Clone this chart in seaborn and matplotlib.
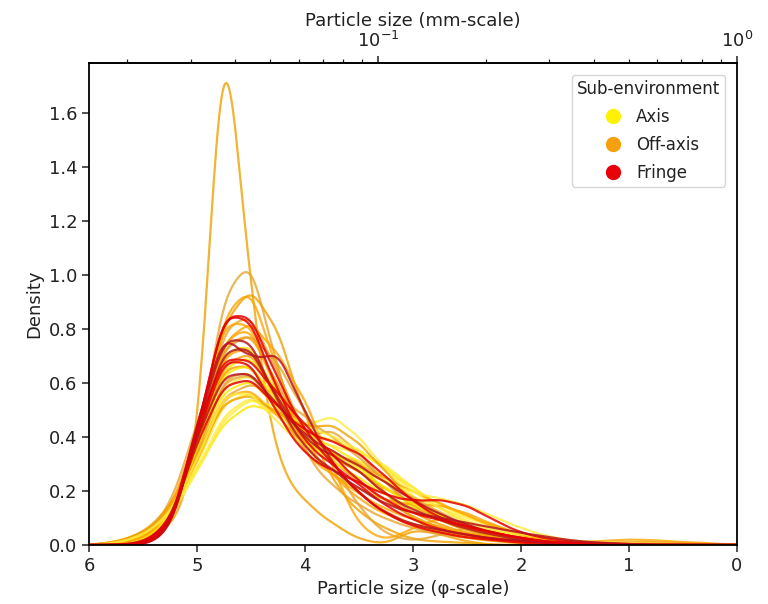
import numpy as np
import matplotlib
matplotlib.use("Agg")
import matplotlib.pyplot as plt
import seaborn as sns
from matplotlib.lines import Line2D
from matplotlib.ticker import LogLocator, LogFormatterSciNotation, NullFormatter, FixedLocator

# ---------------- data: grain-size distributions (% per 0.25-phi class) ----------------
phi_classes = [5.75, 5.5, 5.25, 5.0, 4.75, 4.5, 4.25, 4.0, 3.75, 3.5, 3.25, 3.0,
               2.75, 2.5, 2.25, 2.0, 1.75, 1.5, 1.25, 1.0, 0.75, 0.5, 0.25]

axis_samples = [
    [0.3, 1.2, 3.5, 8, 13, 15, 14, 12, 11, 10, 8, 6, 4.2, 3, 2, 1.2, 0.7, 0.4, 0.2, 0.1, 0.1, 0, 0],
    [0.2, 1, 3, 8, 14, 16, 13.5, 12.5, 14, 11.5, 8, 5, 3.2, 2, 1.3, 0.8, 0.4, 0.2, 0.1, 0.1, 0, 0, 0],
    [0.2, 1, 3.5, 9.5, 16, 17, 14, 11.5, 10, 8.5, 7, 4.5, 3, 2, 1.2, 0.7, 0.4, 0.2, 0.1, 0, 0, 0, 0],
    [0.1, 0.8, 3, 9, 17, 18, 14.5, 10.5, 9, 8, 6.5, 5, 3.8, 2.8, 1.9, 1.2, 0.7, 0.4, 0.2, 0.1, 0.1, 0, 0],
    [0.1, 0.6, 2.8, 9.5, 18.5, 19.5, 15, 11, 9, 7.5, 5.8, 4, 2.8, 1.8, 1, 0.6, 0.3, 0.2, 0.1, 0, 0, 0, 0],
    [0.2, 1, 3.2, 8.5, 15.5, 16.5, 14, 11.5, 10.5, 10, 8.5, 6.2, 3.8, 2.3, 1.5, 1, 0.6, 0.3, 0.2, 0.1, 0.1, 0, 0],
    [0, 0.5, 2.5, 10, 20, 20.5, 15, 10.5, 8.5, 6.8, 5, 3.8, 2.5, 1.6, 1, 0.6, 0.3, 0.2, 0.1, 0, 0, 0, 0],
    [0.2, 1, 3, 7.5, 13.5, 15.5, 14.5, 12.5, 11.5, 10, 8, 5.6, 3.8, 2.5, 1.6, 1.1, 0.7, 0.4, 0.3, 0.2, 0.1, 0.1, 0],
    [0.1, 0.8, 3, 9.5, 18, 18.5, 14.5, 11, 9.5, 8, 5.6, 4.1, 2.9, 1.9, 1.1, 0.6, 0.3, 0.2, 0.1, 0.1, 0, 0, 0],
    [0.2, 1, 3.2, 9, 16.5, 16.5, 13, 10.5, 9.5, 8.5, 6.8, 5.6, 5, 4.3, 3, 1.8, 0.9, 0.4, 0.2, 0.1, 0, 0, 0],
]

offaxis_samples = [
    [0, 0.3, 1.5, 6, 54, 22, 7, 4, 2, 0.5, 0, 1.5, 1, 0.3, 0, 0, 0, 0, 0, 0, 0, 0, 0],
    [0, 0.4, 2, 8.5, 26, 29.5, 17.5, 9, 6, 4, 2.6, 1.7, 1.1, 0.7, 0.4, 0.2, 0, 0, 0, 0, 0, 0, 0],
    [0, 0.5, 2.2, 8.5, 23.5, 26, 17, 10, 7, 4.5, 3, 2, 1.3, 0.8, 0.5, 0.3, 0.2, 0.1, 0, 0, 0, 0, 0],
    [0, 0.5, 2.5, 9, 21.5, 24.5, 20.5, 12, 6, 3, 1.5, 0.5, 0.3, 0.2, 0, 0, 0, 0, 0, 0, 0, 0, 0],
    [0.1, 0.6, 2.8, 9, 22, 23, 17, 11, 8, 5, 3.2, 2, 1.3, 0.8, 0.5, 0.3, 0.1, 0.1, 0, 0, 0, 0, 0],
    [0.1, 0.6, 2.8, 9, 21, 22, 15, 9.5, 9, 8.5, 5, 2.5, 1.3, 0.7, 0.4, 0.2, 0.1, 0, 0, 0, 0, 0, 0],
    [0.1, 0.7, 3, 9.5, 20.5, 21.5, 16, 11, 8.5, 6.3, 4.4, 2.8, 1.7, 1, 0.6, 0.4, 0.2, 0.1, 0.1, 0, 0, 0, 0],
    [0, 0.5, 3, 10, 16.5, 17.5, 15, 11, 7, 3, 0.8, 0.3, 0.8, 1.5, 1.2, 0.6, 0.2, 0, 0, 0, 0, 0, 0],
    [0, 0.4, 2.5, 9.5, 18.5, 20, 17, 13, 7, 1.5, 0.3, 1.5, 2.5, 1.5, 0.6, 0.2, 0, 0, 0, 0, 0, 0, 0],
    [0.2, 1, 3.5, 10, 18.5, 19.5, 15, 11, 9, 7.5, 5, 3.2, 2, 1.2, 0.7, 0.4, 0.2, 0.1, 0.1, 0, 0, 0, 0],
    [0.2, 1, 3.2, 9, 17.5, 18, 13.5, 11, 12, 9.5, 6.3, 3.8, 2.5, 1.5, 0.9, 0.5, 0.2, 0.1, 0, 0, 0, 0, 0],
    [0.3, 1.2, 3.5, 8.5, 16, 16.5, 13.5, 10.5, 9.5, 8.5, 7, 5.6, 4.4, 3.1, 1.9, 1, 0.5, 0.3, 0.4, 0.6, 0.5, 0.3, 0.2],
    [0.1, 0.8, 3, 10, 18.5, 18.5, 14, 10.5, 9, 7.5, 5.6, 4.4, 3.1, 1.9, 1.1, 0.6, 0.3, 0.2, 0.2, 0.3, 0.3, 0.2, 0.1],
    [0.2, 1, 3.5, 9, 15.5, 16.5, 15.5, 13, 11, 9, 6.3, 4, 2.5, 1.5, 0.9, 0.5, 0.2, 0.1, 0, 0, 0, 0, 0],
    [0.1, 0.6, 2.8, 10, 19.5, 20, 14, 9, 7, 5.6, 4.4, 4, 4, 3.2, 2, 1, 0.5, 0.2, 0.1, 0, 0, 0, 0],
    [0.3, 1.2, 3.8, 9, 15, 15.5, 13.5, 12, 12.5, 10.5, 7.5, 4.4, 2.5, 1.5, 0.9, 0.5, 0.2, 0.1, 0, 0, 0, 0, 0],
    [0.2, 0.9, 3.2, 9.5, 17, 17.5, 14, 11, 9.5, 8, 6.3, 4.8, 3.3, 2, 1.1, 0.6, 0.3, 0.2, 0.1, 0, 0, 0, 0],
    [0.1, 0.6, 3, 11, 22.5, 22, 15, 9.5, 7, 5, 3.5, 2.5, 1.8, 1.1, 0.8, 0.5, 0.2, 0.1, 0.1, 0.1, 0.1, 0, 0],
]

fringe_samples = [
    [0, 0, 1, 11, 23.5, 22.5, 15, 10, 8, 6, 3.8, 2.5, 1.5, 1, 0.6, 0.4, 0.2, 0, 0, 0, 0, 0, 0],
    [0, 0, 1, 12, 21.5, 18, 19.5, 13, 8, 5, 3.1, 2, 1.5, 1, 0.6, 0.4, 0.2, 0, 0, 0, 0, 0, 0],
    [0, 0, 1.2, 11, 23, 22.5, 16, 11, 8, 5, 3, 1.8, 1.2, 0.7, 0.5, 0.2, 0.1, 0, 0, 0, 0, 0, 0],
    [0, 0.1, 1.5, 11, 20, 20, 14.5, 10.5, 9, 7.5, 5, 3.5, 2.5, 1.6, 1, 0.5, 0.2, 0.1, 0, 0, 0, 0, 0],
    [0, 0.1, 1.5, 11, 19, 18.5, 13, 9, 7.5, 6.3, 5, 4.4, 4.6, 4, 2.5, 1.2, 0.6, 0.3, 0.2, 0.1, 0, 0, 0],
    [0, 0.2, 2, 11, 17.5, 17.5, 14, 11, 9.5, 8, 6.3, 4.5, 3.1, 2, 1.2, 0.7, 0.3, 0.2, 0.1, 0, 0, 0, 0],
    [0, 0.2, 2, 10.5, 16.5, 17, 14, 11.5, 10.5, 9.4, 6.9, 4.4, 2.7, 1.8, 1.2, 0.7, 0.3, 0.1, 0, 0, 0, 0, 0],
    [0, 0, 1.3, 11.5, 21, 20.5, 14, 9.5, 7.5, 5.6, 4, 3.2, 2.7, 2.2, 1.7, 1.2, 0.8, 0.4, 0.2, 0.1, 0, 0, 0],
    [0, 0, 1.5, 12, 19, 18.5, 15, 12, 9, 6.3, 4.4, 3.1, 2.5, 1.9, 1.2, 0.7, 0.3, 0.2, 0, 0, 0, 0, 0],
]

groups = ["Axis", "Off-axis", "Fringe"]

# ---------------- styling ----------------
legend_colors = {"Axis": "#FFF200", "Off-axis": "#F5A00F", "Fringe": "#E8000B"}
line_colors = {
    "Axis": ["#FFE600", "#FFEB3B"],
    "Off-axis": ["#F0A000", "#E6A530", "#FFA500"],
    "Fringe": ["#E60000", "#B81420"],
}
line_alpha = {"Axis": 0.8, "Off-axis": 0.8, "Fringe": 0.85}

sns.set_style("ticks")
plt.rcParams["font.family"] = ["DejaVu Sans"]
plt.rcParams["text.color"] = "#222222"
plt.rcParams["axes.labelcolor"] = "#222222"
plt.rcParams["xtick.color"] = "#222222"
plt.rcParams["ytick.color"] = "#222222"

fig = plt.figure(figsize=(7.68, 6.04), dpi=100)
ax = fig.add_axes([0.1159, 0.0977, 0.8437, 0.798])

x = np.array(phi_classes, dtype=float)
H = 0.14  # kernel bandwidth in phi units


def draw(weights, color, alpha):
    w = np.asarray(weights, dtype=float)
    sd = np.sqrt(np.cov(x, aweights=w))
    sns.kdeplot(x=x, weights=w, bw_method=H / sd, clip=(0, 6), cut=3,
                gridsize=500, color=color, alpha=alpha, lw=1.6, ax=ax)


samples = {"Axis": axis_samples, "Off-axis": offaxis_samples, "Fringe": fringe_samples}

# interleave axis and off-axis curves, fringe drawn on top
order = []
na, no = len(axis_samples), len(offaxis_samples)
ia = io = 0
while ia < na or io < no:
    if io < no:
        order.append(("Off-axis", io)); io += 1
    if ia < na:
        order.append(("Axis", ia)); ia += 1
    if io < no:
        order.append(("Off-axis", io)); io += 1
order += [("Fringe", i) for i in range(len(fringe_samples))]

for g, i in order:
    cols = line_colors[g]
    draw(samples[g][i], cols[i % len(cols)], line_alpha[g])

FS = 13
ax.set_xlim(6, 0)
ax.set_ylim(0, 1.785)
ax.set_yticks(np.arange(0, 1.61, 0.2))
ax.set_xlabel("Particle size (φ-scale)", fontsize=FS)
ax.set_ylabel("Density", fontsize=FS)
ax.tick_params(labelsize=FS, width=1.1, length=5)
for s in ax.spines.values():
    s.set_linewidth(1.3)
    s.set_color("black")


def phi2mm(p):
    return 2.0 ** (-np.asarray(p, dtype=float))


def mm2phi(m):
    return -np.log2(np.clip(np.asarray(m, dtype=float), 1e-12, None))


sec = ax.secondary_xaxis("top", functions=(phi2mm, mm2phi))
sec.xaxis.set_major_locator(FixedLocator([0.1, 1.0]))
sec.xaxis.set_minor_locator(LogLocator(base=10, subs=np.arange(2, 10)))
sec.xaxis.set_major_formatter(LogFormatterSciNotation())
sec.xaxis.set_minor_formatter(NullFormatter())
sec.set_xlabel("Particle size (mm-scale)", fontsize=FS)
sec.tick_params(labelsize=FS, width=1.1, length=5)
sec.tick_params(which="minor", length=3, width=0.9)
sec.spines["top"].set_linewidth(1.3)

handles = [Line2D([], [], marker="o", ls="", color=legend_colors[g], markersize=10) for g in groups]
ax.legend(handles, groups, title="Sub-environment", loc="upper right", fontsize=12,
          title_fontsize=12, labelspacing=0.6, borderaxespad=0.7, borderpad=0.3,
          handletextpad=0.5, handlelength=1.8)

fig.savefig("out.png", dpi=100)
